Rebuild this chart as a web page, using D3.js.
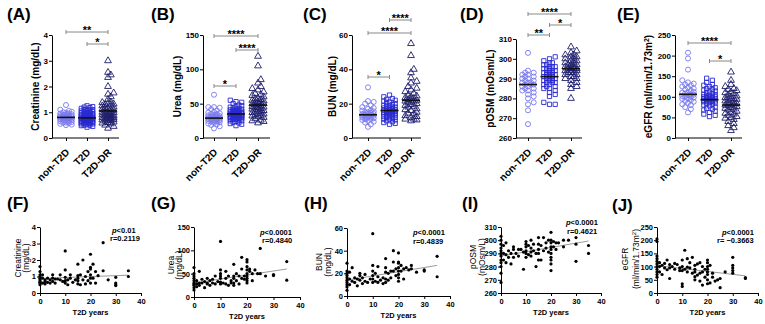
<!DOCTYPE html>
<html>
<head>
<meta charset="utf-8">
<script src="https://cdn.jsdelivr.net/npm/d3@7"></script>
<style>
  body { margin: 0; background: #fff; }
  svg { font-family: "Liberation Sans", Arial, sans-serif; font-weight: bold; }
  .axis path, .axis line { stroke: #000; stroke-width: 1; }
  .axis text { font-size: 8px; font-weight: bold; fill: #000; font-family: "Liberation Sans", Arial, sans-serif; }
  .axis.small text { font-size: 7.5px; }
</style>
</head>
<body>
<svg id="fig" width="765" height="324"></svg>
<script>
const groups = ['non-T2D', 'T2D', 'T2D-DR'];

// ---- top row: group values ----
const creatNon = [0.5,0.52,0.55,0.58,0.6,0.6,0.62,0.65,0.65,0.68,0.7,0.7,0.72,0.72,0.75,0.75,0.75,0.78,0.78,0.8,0.8,0.8,0.82,0.82,0.85,0.85,0.85,0.88,0.88,0.9,0.9,0.92,0.95,0.95,0.98,1.0,1.02,1.05,1.1,1.28];
const creatT2D = [0.42,0.45,0.48,0.5,0.5,0.52,0.55,0.55,0.57,0.58,0.6,0.6,0.6,0.62,0.62,0.63,0.65,0.65,0.65,0.67,0.68,0.68,0.7,0.7,0.7,0.7,0.72,0.72,0.73,0.75,0.75,0.75,0.75,0.77,0.78,0.78,0.8,0.8,0.8,0.8,0.82,0.82,0.83,0.85,0.85,0.85,0.87,0.88,0.88,0.9,0.9,0.9,0.92,0.93,0.95,0.95,0.97,0.98,1.0,1.0,1.02,1.05,1.05,1.08,1.1,1.1,1.12,1.15,1.18,1.2,1.22,1.25];
const creatDR = [0.38,0.45,0.5,0.55,0.58,0.6,0.62,0.65,0.68,0.7,0.7,0.72,0.75,0.75,0.78,0.8,0.8,0.82,0.85,0.85,0.88,0.9,0.9,0.92,0.95,0.98,1.0,1.0,1.02,1.05,1.08,1.1,1.12,1.15,1.18,1.2,1.25,1.28,1.3,1.32,1.35,1.38,1.4,1.5,1.6,1.7,1.75,2.0,2.35,2.45,2.55,3.0];
const creatMeans = [0.8, 0.78, 1.05];
const creatTicks = [0, 1, 2, 3, 4];
const creatComps = [[0, 2, '**'], [1, 2, '*']];

const ureaNon = [14,17,19,20,21,22,23,24,24,25,25,26,26,27,27,28,28,28,29,29,30,30,30,31,31,32,32,33,34,35,35,36,37,38,40,42,44,45,45,63];
const ureaT2D = [18,20,21,22,23,24,25,25,26,27,27,28,28,29,29,30,30,30,31,31,31,32,32,32,33,33,33,33,34,34,34,35,35,35,35,36,36,36,37,37,37,38,38,38,39,39,40,40,41,41,42,42,43,44,45,46,47,48,50,52,53,55];
const ureaDR = [22,24,25,26,28,30,31,32,33,34,35,36,37,38,39,40,41,42,43,44,45,45,46,47,48,49,50,50,51,52,53,54,55,56,57,58,60,62,63,65,67,70,72,75,80,85,105,119];
const ureaMeans = [29, 35, 48];
const ureaTicks = [0, 50, 100, 150];
const ureaComps = [[0, 2, '****'], [1, 2, '****'], [0, 1, '*']];

const bunNon = [6.5,8,9,9.5,10,10.5,11,11,11.5,12,12,12.5,12.5,13,13,13,13.5,13.5,14,14,14,14.5,15,15,15.5,16,16,17,17.5,18,19,20,21,21.5,29.5];
const bunT2D = [8,8.5,9,9.5,10,10.5,11,11,11.5,12,12,12.5,12.5,13,13,13.5,13.5,14,14,14,14.5,14.5,15,15,15,15.5,15.5,16,16,16,16.5,16.5,17,17,17.5,17.5,18,18,18.5,19,19,19.5,20,20.5,21,21.5,22,22.5,23,24,25];
const bunDR = [10,10.5,11,11,12,12.5,13,14,14.5,15,16,16.5,17,18,18.5,19,19.5,20,20.5,21,21.5,22,22,22.5,23,23.5,24,24.5,25,26,27,28,29,30,32,33,35,38,40,48,55];
const bunMeans = [13.5, 16, 22];
const bunTicks = [0, 20, 40, 60];
const bunComps = [[1, 2, '****'], [0, 2, '****'], [0, 1, '*']];

const osmNon = [267,274,277,278,280,281,282,283,284,284,285,285,286,286,287,287,287,288,288,288,289,289,290,290,291,291,292,292,293,293,294,303];
const osmT2D = [277,277,278,281,282,283,284,285,285,286,286,287,287,288,288,288,289,289,289,290,290,290,290,291,291,291,291,292,292,292,292,293,293,293,293,294,294,294,295,295,295,296,296,296,297,297,298,298,299,300,301];
const osmDR = [280,285,286,287,288,289,290,290,291,291,292,292,293,293,293,294,294,294,295,295,295,295,296,296,296,297,297,297,298,298,299,299,300,300,301,301,302,302,303,304,306];
const osmMeans = [287, 291, 295];
const osmTicks = [260, 270, 280, 290, 300, 310];
const osmComps = [[0, 2, '****'], [1, 2, '*'], [0, 1, '**']];

const egfrNon = [62,70,75,80,82,85,88,90,92,95,96,98,100,100,102,104,105,106,108,110,110,112,115,118,120,122,125,128,130,132,135,140,166,193,207];
const egfrT2D = [52,55,58,62,65,68,70,72,75,78,80,82,84,85,86,88,89,90,90,91,92,93,94,95,95,96,97,98,99,100,100,101,102,104,105,106,108,110,112,114,116,118,120,122,125,128,130,135,140,145];
const egfrDR = [18,25,30,35,40,45,48,50,52,55,58,60,62,65,68,70,72,74,76,78,80,80,82,84,86,88,90,92,94,95,96,98,100,102,105,108,110,112,115,118,120,125,130,140,160];
const egfrMeans = [106, 93, 80];
const egfrTicks = [0, 50, 100, 150, 200, 250];
const egfrComps = [[0, 2, '****'], [1, 2, '*']];

// ---- bottom row: [T2D years, value] ----
const creatYears = [[0,0.5],[0,0.6],[0,0.65],[0,0.7],[0,0.8],[0,0.9],[0,1.0],[0,1.1],[0,1.3],[0,1.6],[1,0.6],[1,0.9],[1,1.1],[2,0.7],[2,0.8],[2,0.55],[3,0.9],[3,0.65],[4,0.6],[4,0.8],[5,1.1],[5,0.9],[5,0.7],[6,0.6],[6,0.85],[7,0.85],[8,0.8],[8,1.1],[9,0.7],[10,2.55],[10,1.4],[10,0.95],[10,0.75],[10,0.6],[11,0.5],[11,0.8],[12,0.9],[12,1.1],[13,0.65],[14,0.8],[15,1.75],[15,1.05],[15,0.9],[15,0.75],[15,0.55],[16,1.1],[16,0.5],[17,2.0],[17,0.8],[18,1.0],[18,0.55],[19,1.3],[19,0.75],[20,2.35],[20,1.55],[20,1.45],[20,1.1],[20,0.9],[20,0.6],[21,1.75],[21,0.9],[22,1.3],[22,0.6],[23,1.05],[25,3.05],[25,1.35],[27,0.8],[30,0.95],[30,0.6],[30,0.5],[30,0.45],[35,1.35],[35,1.0]];
const ureaYears = [[0,15],[0,20],[0,25],[0,28],[0,30],[0,35],[0,40],[0,45],[0,50],[0,63],[1,22],[1,28],[1,35],[2,25],[2,30],[2,55],[3,30],[3,38],[4,20],[4,33],[5,40],[5,30],[5,28],[6,35],[6,25],[7,30],[7,38],[8,28],[8,45],[9,33],[10,119],[10,58],[10,50],[10,45],[10,40],[10,32],[10,28],[11,30],[12,55],[12,40],[12,28],[13,45],[13,25],[14,35],[14,30],[15,70],[15,45],[15,40],[15,30],[15,25],[16,50],[16,35],[17,45],[17,28],[18,85],[18,60],[18,40],[19,45],[19,38],[20,80],[20,75],[20,65],[20,58],[20,50],[20,45],[20,40],[20,35],[20,30],[21,60],[21,55],[22,50],[22,35],[23,58],[24,50],[25,104],[25,50],[27,45],[30,48],[30,46],[35,76],[35,36]];
const bunYears = [[0,5],[0,8],[0,10],[0,12],[0,14],[0,16],[0,18],[0,20],[0,22],[0,29],[1,10],[1,15],[1,21],[2,13],[2,25],[3,12],[3,16],[4,9],[4,15],[5,14],[5,18],[5,20],[6,11],[6,16],[7,13],[7,19],[8,12],[9,15],[10,55],[10,27],[10,22],[10,18],[10,15],[10,12],[11,20],[11,13],[12,26],[12,17],[12,12],[13,14],[14,11],[14,16],[15,33],[15,25],[15,21],[15,15],[15,12],[16,20],[16,14],[17,22],[17,16],[18,40],[18,30],[18,22],[19,24],[19,18],[20,38],[20,30],[20,29],[20,25],[20,22],[20,19],[20,16],[20,13],[21,27],[21,22],[22,15],[22,24],[23,25],[24,23],[25,27],[25,24],[27,21],[30,23],[30,22],[35,35],[35,17]];
const osmYears = [[0,268],[0,275],[0,280],[0,283],[0,285],[0,288],[0,290],[0,292],[0,294],[0,297],[0,300],[0,303],[1,285],[1,290],[1,296],[2,283],[2,289],[2,298],[3,287],[3,292],[4,282],[4,290],[5,287],[5,293],[5,295],[6,290],[7,293],[7,288],[8,293],[9,278],[9,291],[10,299],[10,297],[10,295],[10,292],[10,290],[10,287],[11,289],[11,296],[12,300],[12,294],[12,291],[12,288],[13,297],[13,292],[14,280],[14,290],[15,302],[15,297],[15,293],[15,290],[15,285],[16,296],[16,285],[17,302],[17,292],[18,298],[18,294],[19,300],[19,291],[20,306],[20,300],[20,298],[20,295],[20,293],[20,290],[20,287],[20,285],[20,282],[20,277],[21,299],[21,295],[22,298],[22,293],[23,298],[25,300],[25,295],[27,300],[30,302],[30,297],[30,284],[35,296],[35,290]];
const egfrYears = [[0,60],[0,70],[0,80],[0,90],[0,100],[0,110],[0,120],[0,130],[0,140],[0,195],[0,205],[1,115],[1,100],[1,80],[2,105],[2,70],[3,112],[3,95],[4,125],[4,88],[5,108],[5,95],[5,55],[6,100],[7,112],[7,90],[8,108],[9,95],[9,85],[10,125],[10,100],[10,85],[10,35],[10,25],[11,162],[11,90],[12,130],[12,98],[12,80],[13,115],[13,95],[14,135],[14,75],[15,105],[15,90],[15,80],[15,62],[15,50],[16,110],[16,68],[17,115],[17,75],[17,45],[18,100],[18,80],[18,30],[19,90],[19,60],[20,125],[20,115],[20,100],[20,90],[20,80],[20,70],[20,50],[20,35],[21,105],[21,38],[22,60],[22,75],[23,45],[24,50],[25,55],[25,20],[27,80],[30,135],[30,105],[30,95],[30,85],[30,75],[35,58],[35,55]];
const yearTicks = [0, 10, 20, 30, 40];

// fitted lines: [years, value] at both ends
const creatFit = [[0, 0.88], [35, 1.08]];
const ureaFit = [[0, 30], [35, 60]];
const bunFit = [[0, 14], [35, 27]];
const osmFit = [[0, 288], [35, 299.4]];
const egfrFit = [[0, 104], [35, 65]];

// ---- layout ----
const groupColors = ['#7878ee', '#2a2ad2', '#1d1d6b'];
const groupSymbols = [d3.symbolCircle, d3.symbolSquare, d3.symbolTriangle];
const topBottom = 138;

const topPanels = [
  {letter: '(A)', lx: 7, title: 'Creatinine (mg/dL)', titleX: 39, vals: [creatNon, creatT2D, creatDR], means: creatMeans,
   domain: [0, 4], ticks: creatTicks, comps: creatComps, barY: [32, 44], left: 52, cats: [66, 108], xEnd: 119, top: 35},
  {letter: '(B)', lx: 151, title: 'Urea (mg/dL)', titleX: 181, vals: [ureaNon, ureaT2D, ureaDR], means: ureaMeans,
   domain: [0, 150], ticks: ureaTicks, comps: ureaComps, barY: [36, 50, 86], left: 203, cats: [214, 258], xEnd: 270, top: 35},
  {letter: '(C)', lx: 303, title: 'BUN (mg/dL)', titleX: 336, vals: [bunNon, bunT2D, bunDR], means: bunMeans,
   domain: [0, 60], ticks: bunTicks, comps: bunComps, barY: [20, 33, 77], left: 352, cats: [368, 411], xEnd: 421, top: 35},
  {letter: '(D)', lx: 460, title: 'pOSM (mOsm/L)', titleX: 494, vals: [osmNon, osmT2D, osmDR], means: osmMeans,
   domain: [260, 310], ticks: osmTicks, comps: osmComps, barY: [14, 25, 35], left: 516, cats: [528, 571], xEnd: 582, top: 39},
  {letter: '(E)', lx: 617, title: 'eGFR (ml/min/1.73m', sup: true, titleX: 652, vals: [egfrNon, egfrT2D, egfrDR], means: egfrMeans,
   domain: [0, 250], ticks: egfrTicks, comps: egfrComps, barY: [43, 61], left: 675, cats: [688, 731], xEnd: 742, top: 35}
];

const bottomPanels = [
  {letter: '(F)', lx: 7, ly: 209, lines: ['Creatinine', '(mg/dL)'], lineX: [21, 29], midY: 258, pts: creatYears, fit: creatFit,
   domain: [0, 4], ticks: creatTicks, left: 40, right: 141, top: 227, bottom: 293, ann: ['<0.01', 'r=0.2119'], annX: [112, 110], annY: [233, 241]},
  {letter: '(G)', lx: 151, ly: 209, lines: ['Urea', '(mg/dL)'], lineX: [174, 182], midY: 265, pts: ureaYears, fit: ureaFit,
   domain: [0, 150], ticks: ureaTicks, left: 194, right: 300, top: 227, bottom: 297, ann: ['<0.0001', 'r=0.4840'], annX: [260, 262], annY: [235, 243]},
  {letter: '(H)', lx: 304, ly: 209, lines: ['BUN', '(mg/dL)'], lineX: [322, 331], midY: 262, pts: bunYears, fit: bunFit,
   domain: [0, 60], ticks: bunTicks, left: 347, right: 450, top: 228, bottom: 296, ann: ['<0.0001', 'r=0.4839'], annX: [413, 413], annY: [235, 244]},
  {letter: '(I)', lx: 462, ly: 209, lines: ['pOSM', '(mOsm/L)'], lineX: [476, 485], midY: 257, pts: osmYears, fit: osmFit,
   domain: [260, 310], ticks: osmTicks, left: 501, right: 601, top: 227, bottom: 293, ann: ['<0.0001', 'r=0.4621'], annX: [566, 567], annY: [225, 234]},
  {letter: '(J)', lx: 612, ly: 211, lines: ['eGFR', '(ml/min/1.73m'], sup: true, lineX: [628, 639], midY: 259, pts: egfrYears, fit: egfrFit,
   domain: [0, 250], ticks: egfrTicks, left: 657, right: 758, top: 227, bottom: 293, ann: ['<0.0001', 'r= \u22120.3663'], annX: [722, 717], annY: [235, 243]}
];

const svg = d3.select('#fig');

// simple deterministic beeswarm: push points sideways until they stop overlapping
function swarm(vals, yScale, cx, minDist, maxHalf) {
  const order = d3.range(vals.length).sort((a, b) => vals[a] - vals[b]);
  const placed = [];
  const out = new Array(vals.length);
  const step = minDist * 0.75;
  const nSteps = Math.floor(maxHalf / step) * 2;
  order.forEach(i => {
    const y = yScale(vals[i]);
    let best = 0, bestD = -1;
    for (let k = 0; k <= nSteps; k++) {
      const off = (k % 2 ? 1 : -1) * Math.ceil(k / 2) * step;
      let dmin = Infinity;
      placed.forEach(p => { dmin = Math.min(dmin, Math.hypot(p.x - off, p.y - y)); });
      if (dmin >= minDist) { best = off; break; }
      if (dmin > bestD) { bestD = dmin; best = off; }
    }
    placed.push({x: best, y});
    out[i] = {x: cx + best, y};
  });
  return out;
}

function addSup(textSel, base) {
  textSel.text(base);
  textSel.append('tspan').attr('dy', -3.5).attr('font-size', '0.7em').text('2');
  textSel.append('tspan').attr('dy', 3.5).text(')');
}

// ---- top row: dot plots ----
topPanels.forEach(p => {
  const g = svg.append('g');
  const y = d3.scaleLinear().domain(p.domain).range([topBottom, p.top]);
  const x = d3.scalePoint().domain(groups).range(p.cats);

  g.append('text').attr('x', p.lx).attr('y', 20).attr('font-size', 17).text(p.letter);

  g.append('g').attr('class', 'axis')
      .attr('transform', `translate(${p.left},0)`)
      .call(d3.axisLeft(y).tickValues(p.ticks).tickFormat(d => d)
        .tickSize(3).tickSizeOuter(0).tickPadding(1));

  const xg = g.append('g').attr('class', 'axis')
      .attr('transform', `translate(0,${topBottom})`)
      .call(d3.axisBottom(x).tickSize(3).tickSizeOuter(0).tickFormat(''));
  xg.select('.domain').attr('d', `M${p.left},0H${p.xEnd}`);

  groups.forEach(grp => {
    g.append('text')
        .attr('transform', `translate(${x(grp) + 4},${topBottom + 15}) rotate(-45)`)
        .attr('text-anchor', 'end').attr('font-size', 10).text(grp);
  });

  const t = g.append('text')
      .attr('transform', `translate(${p.titleX},${(p.top + topBottom) / 2}) rotate(-90)`)
      .attr('text-anchor', 'middle').attr('font-size', 10);
  if (p.sup) addSup(t, p.title); else t.text(p.title);

  p.vals.forEach((vals, gi) => {
    const pos = swarm(vals, y, x(groups[gi]), 3.8, gi === 1 ? 8 : 7);
    const sym = d3.symbol().type(groupSymbols[gi]).size(gi === 1 ? 18 : 20);
    g.selectAll(null).data(pos).join('path')
        .attr('transform', d => `translate(${d.x},${d.y})`)
        .attr('d', sym)
        .attr('fill', 'none')
        .attr('stroke', groupColors[gi])
        .attr('stroke-width', 0.9);
    g.append('line')
        .attr('x1', x(groups[gi]) - 9).attr('x2', x(groups[gi]) + 9)
        .attr('y1', y(p.means[gi])).attr('y2', y(p.means[gi]))
        .attr('stroke', '#111').attr('stroke-width', 1.6);
  });

  p.comps.forEach((c, ci) => {
    const by = p.barY[ci];
    const x1 = x(groups[c[0]]), x2 = x(groups[c[1]]);
    g.append('path')
        .attr('d', `M${x1},${by - 2}V${by + 2}M${x1},${by}H${x2}M${x2},${by - 2}V${by + 2}`)
        .attr('stroke', '#888').attr('stroke-width', 1).attr('fill', 'none');
    g.append('text').attr('x', (x1 + x2) / 2).attr('y', by + 2)
        .attr('text-anchor', 'middle').attr('font-size', 11).text(c[2]);
  });
});

// ---- bottom row: scatter vs years ----
bottomPanels.forEach(p => {
  const g = svg.append('g');
  const x = d3.scaleLinear().domain([0, 40]).range([p.left, p.right]);
  const y = d3.scaleLinear().domain(p.domain).range([p.bottom, p.top]);

  g.append('text').attr('x', p.lx).attr('y', p.ly).attr('font-size', 17).text(p.letter);

  g.append('g').attr('class', 'axis small')
      .attr('transform', `translate(${p.left},0)`)
      .call(d3.axisLeft(y).tickValues(p.ticks).tickFormat(d => d)
        .tickSize(3).tickSizeOuter(0).tickPadding(1));
  g.append('g').attr('class', 'axis small')
      .attr('transform', `translate(0,${p.bottom})`)
      .call(d3.axisBottom(x).tickValues(yearTicks).tickFormat(d => d)
        .tickSize(3).tickSizeOuter(0).tickPadding(3));

  g.append('text').attr('x', (p.left + p.right) / 2).attr('y', p.bottom + 22)
      .attr('text-anchor', 'middle').attr('font-size', 7.5).text('T2D years');

  p.lines.forEach((ln, li) => {
    const t = g.append('text')
        .attr('transform', `translate(${p.lineX[li]},${p.midY}) rotate(-90)`)
        .attr('text-anchor', 'middle').attr('font-size', 8.5).attr('font-weight', 'normal');
    if (p.sup && li === 1) addSup(t, ln); else t.text(ln);
  });

  g.append('line')
      .attr('x1', x(p.fit[0][0])).attr('y1', y(p.fit[0][1]))
      .attr('x2', x(p.fit[1][0])).attr('y2', y(p.fit[1][1]))
      .attr('stroke', '#9a9a9a').attr('stroke-width', 1);

  g.selectAll(null).data(p.pts).join('circle')
      .attr('cx', d => x(d[0])).attr('cy', d => y(d[1]))
      .attr('r', 1.6).attr('fill', '#000');

  const a1 = g.append('text').attr('x', p.annX[0]).attr('y', p.annY[0]).attr('font-size', 7.5);
  a1.append('tspan').attr('font-style', 'italic').text('p');
  a1.append('tspan').text(p.ann[0]);
  g.append('text').attr('x', p.annX[1]).attr('y', p.annY[1]).attr('font-size', 7.5).text(p.ann[1]);
});
</script>
</body>
</html>
